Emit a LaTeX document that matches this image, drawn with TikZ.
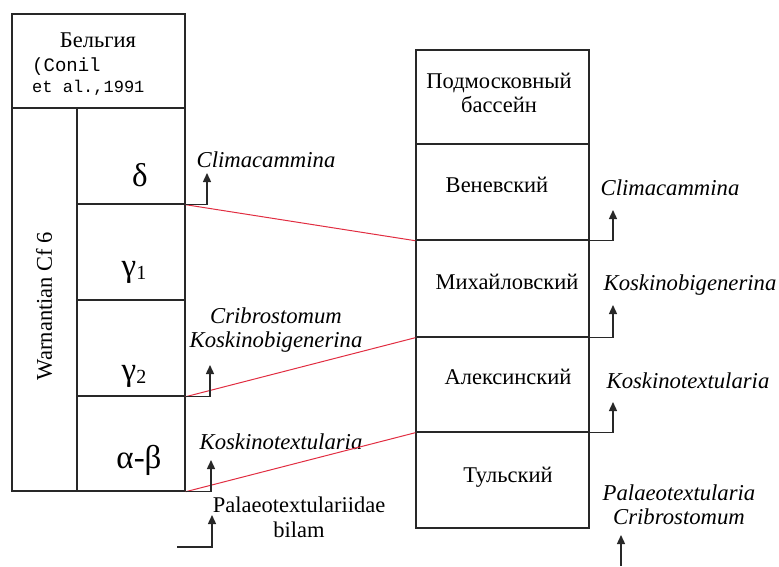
\documentclass[tikz,border=0pt]{standalone}
\usepackage{fontspec}
\setmainfont{Liberation Serif}
\setmonofont{Liberation Mono}
\usetikzlibrary{arrows.meta}
\definecolor{corrred}{RGB}{225,45,65}
\definecolor{lineblk}{RGB}{40,40,40}
\tikzset{
 cell/.style={draw=lineblk, line width=1.4pt, inner sep=0pt},
 lbl/.style={inner sep=0pt, font=\fontsize{22.5}{26}\selectfont, align=center},
 mono/.style={inner sep=0pt, anchor=west},
 sp/.style={inner sep=0pt, font=\fontsize{22.7}{26}\selectfont\itshape, align=center},
 gr/.style={inner sep=0pt, font=\fontsize{33}{34}\selectfont},
 corr/.style={draw=corrred, line width=1pt},
 arr/.style={draw=lineblk, line width=1.4pt, -{Triangle[length=9pt,width=8pt]}},
}
\newcommand{\subnum}[1]{{\fontsize{20}{20}\selectfont\raisebox{-3pt}{#1}}}
\begin{document}
\begin{tikzpicture}[x=1pt,y=-1pt]
\useasboundingbox (0,0) rectangle (779,566);
% left column
\node[cell, minimum width=173pt, minimum height=94pt] (bhead) at (98.5,61) {};
\node[cell, minimum width=65pt, minimum height=383pt] (warn) at (44.5,299.5) {};
\node[cell, minimum width=108pt, minimum height=96pt] (delta) at (131,156) {};
\node[cell, minimum width=108pt, minimum height=96pt] (gone) at (131,252) {};
\node[cell, minimum width=108pt, minimum height=96pt] (gtwo) at (131,348) {};
\node[cell, minimum width=108pt, minimum height=95pt] (ab) at (131,443.5) {};
% right column
\node[cell, minimum width=173pt, minimum height=94pt] (mhead) at (502.5,97) {};
\node[cell, minimum width=173pt, minimum height=96pt] (ven) at (502.5,192) {};
\node[cell, minimum width=173pt, minimum height=97pt] (mikh) at (502.5,288.5) {};
\node[cell, minimum width=173pt, minimum height=95pt] (alek) at (502.5,384.5) {};
\node[cell, minimum width=173pt, minimum height=96pt] (tul) at (502.5,480) {};
% texts left
\node[lbl] (tbel) at (98,40) {Бельгия};
\node[mono, font=\fontsize{19}{20}\ttfamily] (tconil) at (32,67) {(Conil};
\node[mono, font=\fontsize{17}{20}\ttfamily] (tetal) at (32,88) {et al.,1991};
\node[lbl, rotate=90] (twarn) at (44,306) {Warnantian Cf 6};
\node[gr] (tdelta) at (140,175) {δ};
\node[gr] (tgone) at (134,272) {γ\subnum{1}};
\node[gr] (tgtwo) at (134,376) {γ\subnum{2}};
\node[gr] (tab) at (139,460) {α-β};
% texts right
\node[lbl] (tpod) at (499,93) {Подмосковный\\[-2pt]бассейн};
\node[lbl] (tven) at (497,185) {Веневский};
\node[lbl] (tmikh) at (507,282) {Михайловский};
\node[lbl] (talek) at (508,377) {Алексинский};
\node[lbl] (ttul) at (508,477) {Тульский};
% species left
\node[sp] (sclim1) at (266,160) {Climacammina};
\node[sp] (scrib1) at (276,330) {Cribrostomum\\[-2pt]Koskinobigenerina};
\node[sp] (skt1) at (281,442) {Koskinotextularia};
\node[lbl] (spal1) at (299,517) {Palaeotextulariidae\\[-1pt]bilam};
% species right
\node[sp] (sclim2) at (670,188) {Climacammina};
\node[sp] (skb2) at (690,285) {Koskinobigenerina};
\node[sp] (skt2) at (688,381) {Koskinotextularia};
\node[sp] (spal2) at (679,505) {Palaeotextularia\\[-2pt]Cribrostomum};
% correlation lines
\draw[corr] (delta.south east) -- (ven.south west);
\draw[corr] (gtwo.south east) -- (mikh.south west);
\draw[corr] (ab.south east) -- (alek.south west);
% arrow coordinates
\coordinate (aL1) at (207,173);
\coordinate (aL2) at (210,365);
\coordinate (aL3) at (211,460);
\coordinate (aL4s) at (177,547);
\coordinate (aL4) at (212,515);
\coordinate (aR1) at (613,210);
\coordinate (aR2) at (613,305);
\coordinate (aR3) at (613,402);
\coordinate (aR4s) at (621,566);
\coordinate (aR4) at (621,535);
% arrows
\draw[arr] (delta.south east) -| (aL1);
\draw[arr] (gtwo.south east) -| (aL2);
\draw[arr] (ab.south east) -| (aL3);
\draw[arr] (aL4s) -| (aL4);
\draw[arr] (ven.south east) -| (aR1);
\draw[arr] (mikh.south east) -| (aR2);
\draw[arr] (alek.south east) -| (aR3);
\draw[arr] (aR4s) -- (aR4);
\end{tikzpicture}
\end{document}
